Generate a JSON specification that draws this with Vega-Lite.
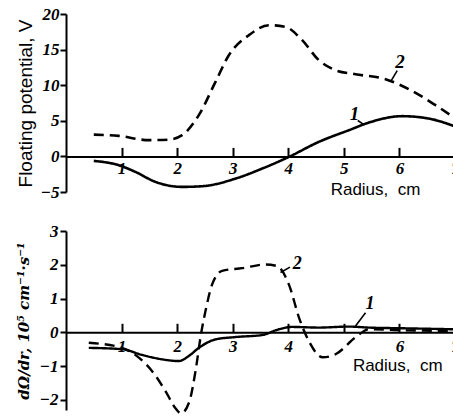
{
  "$schema": "https://vega.github.io/schema/vega-lite/v6.json",
  "autosize": "pad",
  "padding": {"left": 16, "top": 5, "right": 0, "bottom": 0},
  "background": "white",
  "spacing": 39,
  "bounds": "flush",
  "config": {
    "view": {"stroke": null},
    "axis": {
      "grid": false,
      "domainColor": "black",
      "tickColor": "black",
      "labelColor": "black",
      "titleColor": "black",
      "domainWidth": 2,
      "tickWidth": 2,
      "labelFont": "Liberation Serif",
      "labelFontStyle": "italic",
      "labelFontWeight": "bold",
      "labelFontSize": 17,
      "labelFlush": false,
      "labelOverlap": false,
      "tickCount": 12,
      "format": "d"
    }
  },
  "datasets": {
    "top": [
      {"series": "1", "x": 0.50, "y": -0.63},
      {"series": "1", "x": 0.95, "y": -1.24},
      {"series": "1", "x": 1.25, "y": -2.18},
      {"series": "1", "x": 1.61, "y": -3.58},
      {"series": "1", "x": 2.09, "y": -4.28},
      {"series": "1", "x": 2.45, "y": -4.19},
      {"series": "1", "x": 3.05, "y": -3.12},
      {"series": "1", "x": 3.53, "y": -1.71},
      {"series": "1", "x": 4.01, "y": -0.07},
      {"series": "1", "x": 4.55, "y": 2.04},
      {"series": "1", "x": 5.09, "y": 3.68},
      {"series": "1", "x": 5.45, "y": 4.75},
      {"series": "1", "x": 6.05, "y": 5.65},
      {"series": "1", "x": 6.53, "y": 5.31},
      {"series": "1", "x": 6.99, "y": 4.24},
      {"series": "2", "x": 0.50, "y": 3.06},
      {"series": "2", "x": 0.95, "y": 2.88},
      {"series": "2", "x": 1.49, "y": 2.28},
      {"series": "2", "x": 1.85, "y": 2.36},
      {"series": "2", "x": 2.09, "y": 2.98},
      {"series": "2", "x": 2.39, "y": 5.79},
      {"series": "2", "x": 2.69, "y": 10.46},
      {"series": "2", "x": 2.93, "y": 14.21},
      {"series": "2", "x": 3.29, "y": 17.02},
      {"series": "2", "x": 3.65, "y": 18.43},
      {"series": "2", "x": 3.95, "y": 18.19},
      {"series": "2", "x": 4.25, "y": 16.32},
      {"series": "2", "x": 4.55, "y": 13.51},
      {"series": "2", "x": 4.85, "y": 12.11},
      {"series": "2", "x": 5.21, "y": 11.54},
      {"series": "2", "x": 5.75, "y": 10.84},
      {"series": "2", "x": 6.17, "y": 9.44},
      {"series": "2", "x": 6.65, "y": 7.19},
      {"series": "2", "x": 6.99, "y": 5.41}
    ],
    "bottom": [
      {"series": "1", "x": 0.41, "y": -0.46},
      {"series": "1", "x": 1.01, "y": -0.50},
      {"series": "1", "x": 1.37, "y": -0.67},
      {"series": "1", "x": 1.73, "y": -0.80},
      {"series": "1", "x": 2.03, "y": -0.85},
      {"series": "1", "x": 2.21, "y": -0.70},
      {"series": "1", "x": 2.39, "y": -0.46},
      {"series": "1", "x": 2.69, "y": -0.21},
      {"series": "1", "x": 3.05, "y": -0.14},
      {"series": "1", "x": 3.53, "y": -0.08},
      {"series": "1", "x": 3.83, "y": 0.09},
      {"series": "1", "x": 4.07, "y": 0.16},
      {"series": "1", "x": 4.55, "y": 0.14},
      {"series": "1", "x": 5.09, "y": 0.17},
      {"series": "1", "x": 5.45, "y": 0.14},
      {"series": "1", "x": 6.05, "y": 0.12},
      {"series": "1", "x": 6.99, "y": 0.09},
      {"series": "2", "x": 0.41, "y": -0.31},
      {"series": "2", "x": 1.01, "y": -0.46},
      {"series": "2", "x": 1.31, "y": -0.75},
      {"series": "2", "x": 1.55, "y": -1.15},
      {"series": "2", "x": 1.79, "y": -1.74},
      {"series": "2", "x": 1.97, "y": -2.25},
      {"series": "2", "x": 2.07, "y": -2.40},
      {"series": "2", "x": 2.22, "y": -2.05},
      {"series": "2", "x": 2.33, "y": -1.15},
      {"series": "2", "x": 2.43, "y": -0.05},
      {"series": "2", "x": 2.51, "y": 0.63},
      {"series": "2", "x": 2.63, "y": 1.42},
      {"series": "2", "x": 2.81, "y": 1.82},
      {"series": "2", "x": 3.17, "y": 1.90},
      {"series": "2", "x": 3.59, "y": 2.01},
      {"series": "2", "x": 3.80, "y": 1.96},
      {"series": "2", "x": 4.01, "y": 1.42},
      {"series": "2", "x": 4.20, "y": 0.40},
      {"series": "2", "x": 4.37, "y": -0.26},
      {"series": "2", "x": 4.62, "y": -0.74},
      {"series": "2", "x": 4.85, "y": -0.65},
      {"series": "2", "x": 5.21, "y": -0.15},
      {"series": "2", "x": 5.45, "y": 0.09},
      {"series": "2", "x": 6.05, "y": 0.06},
      {"series": "2", "x": 6.99, "y": 0.04}
    ],
    "topLeaders": [
      {"x": 5.85, "y": 10.6, "x2": 5.96, "y2": 12.05},
      {"x": 5.25, "y": 5.04, "x2": 5.36, "y2": 4.47}
    ],
    "topLabels": [
      {"x": 6.01, "y": 13.2, "label": "2"},
      {"x": 5.19, "y": 6.0, "label": "1"}
    ],
    "topTitle": [
      {"x": 5.57, "y": -4.75, "label": "Radius,\u00a0 cm"}
    ],
    "bottomLeaders": [
      {"x": 3.86, "y": 1.77, "x2": 4.03, "y2": 1.93},
      {"x": 5.21, "y": 0.19, "x2": 5.39, "y2": 0.58}
    ],
    "bottomLabels": [
      {"x": 4.16, "y": 2.01, "label": "2"},
      {"x": 5.47, "y": 0.83, "label": "1"}
    ],
    "bottomTitle": [
      {"x": 5.97, "y": -1.0, "label": "Radius,\u00a0 cm"}
    ]
  },
  "vconcat": [
    {
      "width": 389,
      "height": 178,
      "layer": [
        {
          "data": {"name": "top"},
          "mark": {"type": "line", "interpolate": "monotone", "strokeWidth": 2.6, "color": "black", "clip": false},
          "encoding": {
            "x": {
              "field": "x", "type": "quantitative",
              "scale": {"domain": [0, 7], "nice": false, "zero": false},
              "axis": {"values": [1, 2, 3, 4, 5, 6, 7], "tickCount": 12, "title": null, "offset": -35.6, "tickSize": -9, "labelPadding": 13, "labelOverlap": false, "labelBound": false}
            },
            "y": {
              "field": "y", "type": "quantitative",
              "scale": {"domain": [-5, 20], "nice": false, "zero": false},
              "axis": {
                "values": [-5, 0, 5, 10, 15, 20],
                "tickCount": 12,
                "labelOverlap": false,
                "title": "Floating potential, V",
                "titleFont": "Liberation Sans",
                "titleFontWeight": "normal",
                "titleFontSize": 19,
                "titlePadding": 5,
                "tickSize": 6,
                "labelPadding": 1
              }
            },
            "strokeDash": {
              "field": "series", "type": "nominal",
              "scale": {"domain": ["1", "2"], "range": [[1, 0], [10, 6]]},
              "legend": null
            }
          }
        },
        {
          "data": {"name": "topLeaders"},
          "mark": {"type": "rule", "strokeWidth": 1.6, "color": "black"},
          "encoding": {
            "x": {"field": "x", "type": "quantitative"},
            "y": {"field": "y", "type": "quantitative"},
            "x2": {"field": "x2"},
            "y2": {"field": "y2"}
          }
        },
        {
          "data": {"name": "topLabels"},
          "mark": {"type": "text", "font": "Liberation Serif", "fontStyle": "italic", "fontWeight": "bold", "fontSize": 19, "color": "black"},
          "encoding": {
            "x": {"field": "x", "type": "quantitative"},
            "y": {"field": "y", "type": "quantitative"},
            "text": {"field": "label"}
          }
        },
        {
          "data": {"name": "topTitle"},
          "mark": {"type": "text", "font": "Liberation Sans", "fontSize": 17, "color": "black"},
          "encoding": {
            "x": {"field": "x", "type": "quantitative"},
            "y": {"field": "y", "type": "quantitative"},
            "text": {"field": "label"}
          }
        }
      ]
    },
    {
      "width": 389,
      "height": 179,
      "layer": [
        {
          "data": {"name": "bottom"},
          "mark": {"type": "line", "interpolate": "monotone", "strokeWidth": 2.4, "color": "black", "clip": false},
          "encoding": {
            "x": {
              "field": "x", "type": "quantitative",
              "scale": {"domain": [0, 7], "nice": false, "zero": false},
              "axis": {"values": [1, 2, 3, 4, 5, 6, 7], "tickCount": 12, "title": null, "offset": -77.7, "tickSize": -9, "labelPadding": 15, "labelOverlap": false, "labelBound": false, "labelExpr": "datum.value == 5 ? '' : datum.label"}
            },
            "y": {
              "field": "y", "type": "quantitative",
              "scale": {"domain": [-2.3, 3], "nice": false, "zero": false},
              "axis": {
                "values": [-2, -1, 0, 1, 2, 3],
                "tickCount": 12,
                "labelOverlap": false,
                "title": "dΩ/dr, 10⁵ cm⁻¹·s⁻¹",
                "titleFont": "DejaVu Serif",
                "titleFontStyle": "italic",
                "titleFontWeight": "bold",
                "titleFontSize": 15,
                "titlePadding": 8,
                "tickSize": 6,
                "labelPadding": 2
              }
            },
            "strokeDash": {
              "field": "series", "type": "nominal",
              "scale": {"domain": ["1", "2"], "range": [[1, 0], [8, 5]]},
              "legend": null
            }
          }
        },
        {
          "data": {"name": "bottomLeaders"},
          "mark": {"type": "rule", "strokeWidth": 1.6, "color": "black"},
          "encoding": {
            "x": {"field": "x", "type": "quantitative"},
            "y": {"field": "y", "type": "quantitative"},
            "x2": {"field": "x2"},
            "y2": {"field": "y2"}
          }
        },
        {
          "data": {"name": "bottomLabels"},
          "mark": {"type": "text", "font": "Liberation Serif", "fontStyle": "italic", "fontWeight": "bold", "fontSize": 18, "color": "black"},
          "encoding": {
            "x": {"field": "x", "type": "quantitative"},
            "y": {"field": "y", "type": "quantitative"},
            "text": {"field": "label"}
          }
        },
        {
          "data": {"name": "bottomTitle"},
          "mark": {"type": "text", "font": "Liberation Sans", "fontSize": 17, "color": "black"},
          "encoding": {
            "x": {"field": "x", "type": "quantitative"},
            "y": {"field": "y", "type": "quantitative"},
            "text": {"field": "label"}
          }
        }
      ]
    }
  ]
}
